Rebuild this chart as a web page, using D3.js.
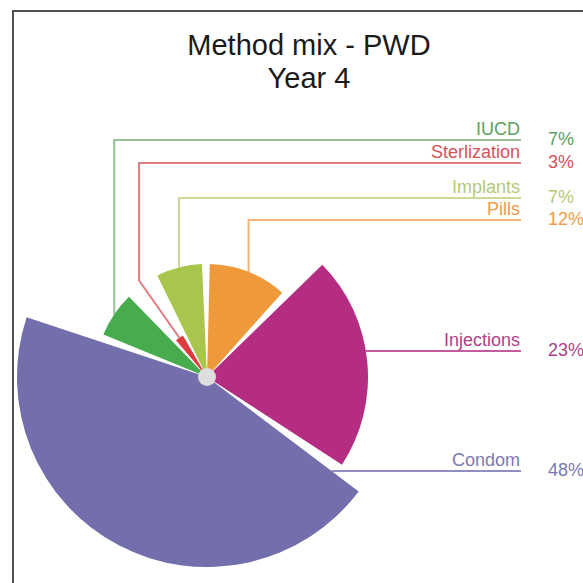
<!DOCTYPE html>
<html>
<head>
<meta charset="utf-8">
<script src="https://cdn.jsdelivr.net/npm/d3@7"></script>
<style>
  html, body { margin: 0; padding: 0; background: #fff; }
  svg { display: block; }
  text { font-family: "Liberation Sans", Arial, Helvetica, sans-serif; }
</style>
</head>
<body>
<svg id="chart" width="583" height="583"></svg>
<script>
// ---- data ----
const categories = ["IUCD", "Sterlization", "Implants", "Pills", "Injections", "Condom"];
const shares = [7, 3, 7, 12, 23, 48];
const titleLines = ["Method mix - PWD", "Year 4"];

// ---- layout ----
const W = 583, H = 583;
const cx = 207, cy = 377;
const deg = Math.PI / 180;
const startAngle = 290.3 * deg;
const padAngle = 4 * deg;
const lineEnd = 521;
const nameX = 520;
const pctX = 548;

const sliceColor = d3.scaleOrdinal().domain(categories)
  .range(["#46ac4e", "#de3a40", "#a8c64c", "#ee9a3b", "#b42d82", "#726fac"]);
const textColor = d3.scaleOrdinal().domain(categories)
  .range(["#5c9f61", "#d4525a", "#b3c977", "#ee9c4c", "#b03f89", "#7c7ab1"]);
const lineColor = d3.scaleOrdinal().domain(categories)
  .range(["#93c594", "#e27b80", "#cbdb95", "#f2b478", "#c35b9f", "#8f8dc1"]);
const outerR = d3.scaleOrdinal().domain(categories)
  .range([112, 48, 113, 113, 161, 190]);
// y of each label's underline
const labelY = d3.scaleOrdinal().domain(categories)
  .range([140, 163, 198, 220, 351, 471]);
// "up": leader rises from the slice tip; "side": leader runs left from the slice edge
const leaderKind = d3.scaleOrdinal().domain(categories)
  .range(["up", "up", "up", "up", "side", "side"]);
// radius to which a leader first runs outward before turning upward
const elbowR = d3.scaleOrdinal().domain(categories)
  .range([0, 118, 0, 0, 0, 0]);

const rows = categories.map((c, i) => ({ category: c, value: shares[i] }));

const pie = d3.pie()
  .value(d => d.value)
  .sort(null)
  .startAngle(startAngle)
  .endAngle(startAngle + 2 * Math.PI)
  .padAngle(padAngle);

const arcs = pie(rows);

const arc = d3.arc()
  .innerRadius(0)
  .outerRadius(d => outerR(d.data.category));

const svg = d3.select("#chart");

svg.append("rect").attr("width", W).attr("height", H).attr("fill", "#fff");

// frame
svg.append("rect")
  .attr("x", 13).attr("y", 11)
  .attr("width", 700).attr("height", 700)
  .attr("fill", "none")
  .attr("stroke", "#505050")
  .attr("stroke-width", 2);

// title
svg.append("g").selectAll("text")
  .data(titleLines)
  .join("text")
  .attr("x", 309)
  .attr("y", (d, i) => 55 + i * 33)
  .attr("text-anchor", "middle")
  .attr("font-size", 29)
  .attr("fill", "#1a1a1a")
  .text(d => d);

const g = svg.append("g").attr("transform", `translate(${cx},${cy})`);

// rightmost x covered by a slice along the row dy (relative to the centre)
function rightmostX(d, dy) {
  const r = outerR(d.data.category);
  const a0 = d.startAngle + d.padAngle / 2;
  const a1 = d.endAngle - d.padAngle / 2;
  const inRange = a => {
    let t = a;
    while (t < a0) t += 2 * Math.PI;
    while (t - 2 * Math.PI >= a0) t -= 2 * Math.PI;
    return t <= a1;
  };
  const xs = [];
  if (Math.abs(dy) <= r) {
    const x = Math.sqrt(r * r - dy * dy);
    if (inRange(Math.atan2(x, -dy))) xs.push(x);
  }
  [a0, a1].forEach(a => {
    const c = -Math.cos(a);
    if (Math.abs(c) > 1e-6) {
      const t = dy / c;
      if (t >= 0 && t <= r) xs.push(t * Math.sin(a));
    }
  });
  return d3.max(xs);
}

function leaderPoints(d) {
  const cat = d.data.category;
  const ly = labelY(cat) - cy;
  const endX = lineEnd - cx;
  if (leaderKind(cat) === "side") {
    return [[rightmostX(d, ly), ly], [endX, ly]];
  }
  const mid = (d.startAngle + d.endAngle) / 2;
  const r = outerR(cat);
  const pts = [[r * Math.sin(mid), -r * Math.cos(mid)]];
  const er = elbowR(cat);
  if (er > r) pts.push([er * Math.sin(mid), -er * Math.cos(mid)]);
  const vx = pts[pts.length - 1][0];
  pts.push([vx, ly], [endX, ly]);
  return pts;
}

// leader lines (behind the slices)
g.append("g").selectAll("path")
  .data(arcs)
  .join("path")
  .attr("d", d => d3.line()(leaderPoints(d)))
  .attr("fill", "none")
  .attr("stroke", d => lineColor(d.data.category))
  .attr("stroke-width", 2);

// slices
g.append("g").selectAll("path")
  .data(arcs)
  .join("path")
  .attr("d", arc)
  .attr("fill", d => sliceColor(d.data.category));

// hub
g.append("circle").attr("r", 9).attr("fill", "#dedede");

// labels
const labels = svg.append("g");
labels.selectAll("text.name")
  .data(arcs)
  .join("text")
  .attr("class", "name")
  .attr("x", nameX)
  .attr("y", d => labelY(d.data.category) - 5)
  .attr("text-anchor", "end")
  .attr("font-size", 18)
  .attr("fill", d => textColor(d.data.category))
  .text(d => d.data.category);

labels.selectAll("text.pct")
  .data(arcs)
  .join("text")
  .attr("class", "pct")
  .attr("x", pctX)
  .attr("y", d => labelY(d.data.category) + 5)
  .attr("font-size", 18)
  .attr("fill", d => textColor(d.data.category))
  .text(d => d.data.value + "%");
</script>
</body>
</html>
